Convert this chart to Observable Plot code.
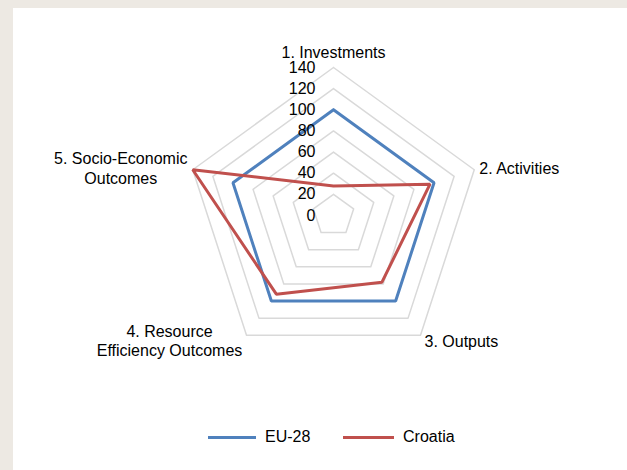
<!DOCTYPE html>
<html>
<head>
<meta charset="utf-8">
<script src="https://cdn.jsdelivr.net/npm/d3@7"></script>
<script src="https://cdn.jsdelivr.net/npm/@observablehq/plot@0.6"></script>
<style>
  html, body { margin: 0; padding: 0; }
  body { width: 627px; height: 470px; background: #EDE9E3; position: relative; overflow: hidden; font-family: "Liberation Sans", Arial, sans-serif; }
  #panel { position: absolute; left: 13px; top: 8px; width: 614px; height: 462px; background: #fff; }
  #chart { position: absolute; left: 0; top: 0; }
  #legend { position: absolute; left: 0; top: 427px; width: 627px; height: 20px; }
  .item { position: absolute; top: 0; display: flex; align-items: center; height: 20px; font-size: 16px; color: #000; }
  .swatch { height: 3px; margin-right: 9px; }
</style>
</head>
<body>
<div id="panel"></div>
<div id="chart"></div>
<div id="legend"></div>
<script>
// ---- data ----
const categories = ["1. Investments", "2. Activities", "3. Outputs", "4. Resource\nEfficiency Outcomes", "5. Socio-Economic\nOutcomes"];
const seriesNames = ["EU-28", "Croatia"];
const eu28 = [100, 100, 100, 100, 100];
const croatia = [28, 96, 78, 92, 140];
const tickValues = [0, 20, 40, 60, 80, 100, 120, 140];
const colors = ["#4F81BD", "#C0504D"];

// ---- geometry ----
const W = 627, H = 470;
const cx = 333, cy = 215, outerPx = 148, maxV = 140;
const k = outerPx / maxV;
const n = categories.length;
const ang = i => (i * 2 * Math.PI) / n;
const px = (v, i) => v * Math.sin(ang(i));
const py = (v, i) => v * Math.cos(ang(i));

// rings
const rings = [];
tickValues.filter(t => t > 0).forEach(t => {
  for (let i = 0; i <= n; i++) rings.push({ring: t, x: px(t, i % n), y: py(t, i % n)});
});

// series
const seriesRows = [];
[eu28, croatia].forEach((vals, s) => {
  for (let i = 0; i <= n; i++) {
    const v = vals[i % n];
    seriesRows.push({series: seriesNames[s], x: px(v, i % n), y: py(v, i % n)});
  }
});

const labelStyle = [
  {textAnchor: "middle", dx: 0, dy: -16},
  {textAnchor: "start", dx: 5, dy: -2},
  {textAnchor: "start", dx: 4, dy: 6},
  {textAnchor: "middle", dx: -77, dy: 5},
  {textAnchor: "middle", dx: -72, dy: -2}
];

const labelMarks = categories.map((c, i) =>
  Plot.text([c], {
    x: () => px(maxV, i), y: () => py(maxV, i), text: d => d,
    textAnchor: labelStyle[i].textAnchor, dx: labelStyle[i].dx, dy: labelStyle[i].dy,
    fontSize: 16, fill: "#000", lineHeight: 1.22
  })
);

const chart = Plot.plot({
  width: W, height: H,
  marginTop: 0, marginRight: 0, marginBottom: 0, marginLeft: 0,
  style: {background: "transparent", fontFamily: "Liberation Sans, Arial, sans-serif"},
  x: {domain: [-cx / k, (W - cx) / k], range: [0, W], axis: null},
  y: {domain: [-(H - cy) / k, cy / k], range: [H, 0], axis: null},
  color: {domain: seriesNames, range: colors},
  marks: [
    Plot.line(rings, {x: "x", y: "y", z: "ring", stroke: "#D9D9D9", strokeWidth: 1.5}),
    Plot.line(seriesRows, {x: "x", y: "y", z: "series", stroke: "series", strokeWidth: 3, strokeLinejoin: "miter"}),
    Plot.text(tickValues, {x: 0, y: d => d, text: d => String(d), textAnchor: "end", dx: -18, fontSize: 16, fill: "#000"}),
    ...labelMarks
  ]
});
document.getElementById("chart").appendChild(chart);

// legend
const legend = document.getElementById("legend");
const legendPos = [208, 343];
seriesNames.forEach((s, i) => {
  const item = document.createElement("div");
  item.className = "item";
  item.style.left = legendPos[i] + "px";
  const sw = document.createElement("div");
  sw.className = "swatch";
  sw.style.width = (i === 0 ? 48 : 51) + "px";
  sw.style.background = colors[i];
  const t = document.createElement("span");
  t.textContent = s;
  item.appendChild(sw); item.appendChild(t);
  legend.appendChild(item);
});
</script>
</body>
</html>
